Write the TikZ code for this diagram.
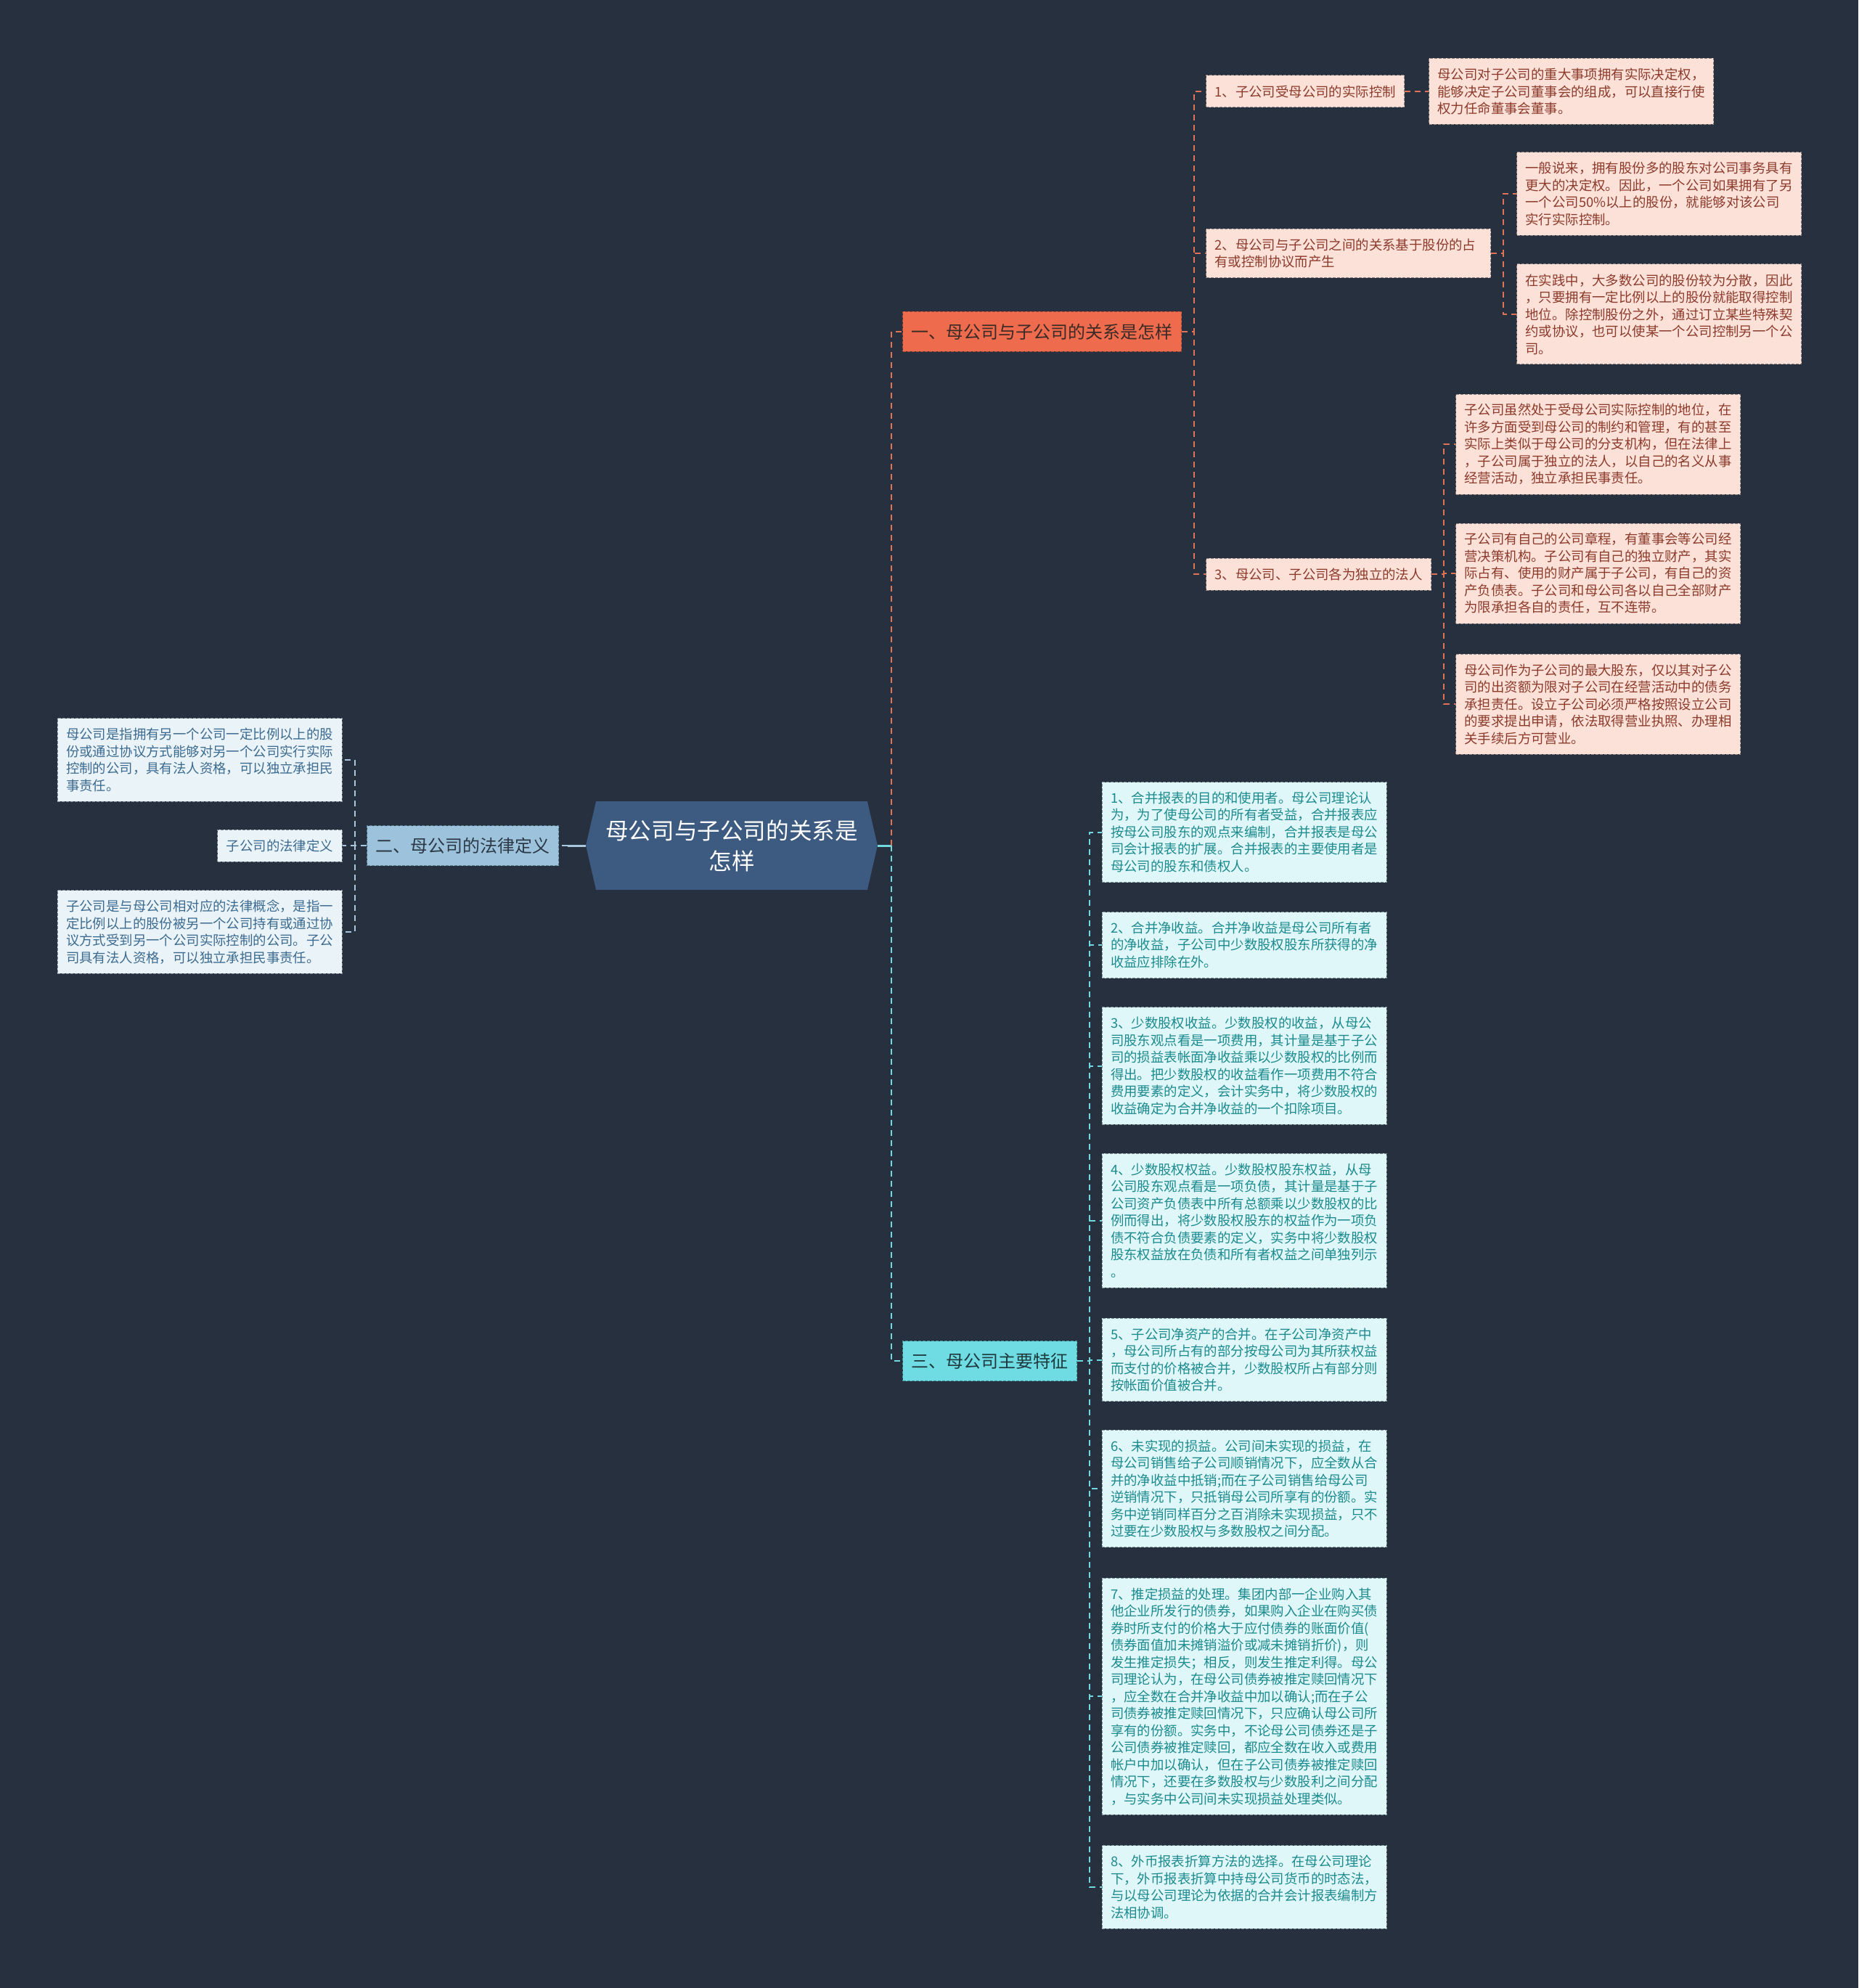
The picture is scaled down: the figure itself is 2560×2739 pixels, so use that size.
\documentclass[tikz,border=0pt]{standalone}
\usepackage{fontspec}
\newfontfamily\cjk{Noto Sans CJK SC}
\usetikzlibrary{calc,backgrounds}
\definecolor{bg}{HTML}{27303F}
\definecolor{rootfill}{HTML}{3D5A80}
\definecolor{bonefill}{HTML}{EE6C4D}
\definecolor{boneline}{HTML}{A94A36}
\definecolor{bonetext}{HTML}{3B2A26}
\definecolor{btwofill}{HTML}{9CC3DB}
\definecolor{btwoline}{HTML}{5E7F94}
\definecolor{btwotext}{HTML}{2C3845}
\definecolor{bthreefill}{HTML}{6EDCE2}
\definecolor{bthreeline}{HTML}{3E8E93}
\definecolor{bthreetext}{HTML}{1E3A3E}
\definecolor{peach}{HTML}{FCE1D9}
\definecolor{peachtext}{HTML}{8C3B2B}
\definecolor{peachline}{HTML}{8F8482}
\definecolor{lblue}{HTML}{EAF3F8}
\definecolor{lbluetext}{HTML}{3D6B90}
\definecolor{lblueline}{HTML}{7F8C96}
\definecolor{lcyan}{HTML}{DFF7F8}
\definecolor{lcyantext}{HTML}{1C8A8E}
\definecolor{lcyanline}{HTML}{7B9193}
\definecolor{orangelink}{HTML}{E07256}
\definecolor{bluelink}{HTML}{A7C7DB}
\definecolor{cyanlink}{HTML}{6FD9DF}
\tikzset{
  leaf/.style={font=\cjk\fontsize{9.2pt}{11.75pt}\selectfont, align=left,
    inner xsep=6pt, inner ysep=3pt, draw, dash pattern=on 2pt off 1pt, line width=0.5pt},
  wide/.style={text width=184pt},
  pbox/.style={leaf, fill=peach, draw=peachline, text=peachtext},
  bbox/.style={leaf, fill=lblue, draw=lblueline, text=lbluetext},
  cbox/.style={leaf, fill=lcyan, draw=lcyanline, text=lcyantext},
  branch/.style={font=\cjk\fontsize{12pt}{14pt}\selectfont, inner xsep=6pt, inner ysep=2pt,
    minimum height=27.5pt, draw, dash pattern=on 2pt off 1pt, line width=0.5pt},
  link/.style={dash pattern=on 4pt off 3pt, line width=1pt},
  solidlink/.style={line width=1.5pt},
  lnone/.style={minimum height=22pt},
  lntwo/.style={minimum height=33.75pt},
  lnthree/.style={minimum height=45.5pt},
  lnfour/.style={minimum height=57.25pt},
  lnfive/.style={minimum height=69pt},
  lnsix/.style={minimum height=80.75pt},
  lnseven/.style={minimum height=92.5pt},
  lnthirteen/.style={minimum height=163pt},
}
\begin{document}
\begin{tikzpicture}[x=0.5pt,y=-0.5pt]
\useasboundingbox (0,0) rectangle (2560,2739);

% root
\node[font=\cjk\fontsize{15.8pt}{21pt}\selectfont, text=white, align=center,
  minimum width=200.5pt, minimum height=60.5pt, inner sep=0pt] (root) at (1008,1165)
  {母公司与子公司的关系是\\怎样};

% branches
\node[branch, fill=bonefill, draw=boneline, text=bonetext, anchor=west] (b1) at (1243,457) {一、母公司与子公司的关系是怎样};
\node[branch, fill=btwofill, draw=btwoline, text=btwotext, anchor=east] (b2) at (770,1165) {二、母公司的法律定义};
\node[branch, fill=bthreefill, draw=bthreeline, text=bthreetext, anchor=west] (b3) at (1243,1875) {三、母公司主要特征};

% branch 1 children
\node[pbox, lnone, anchor=west] (c11) at (1661,126) {1、子公司受母公司的实际控制};
\node[pbox, wide, lntwo, anchor=west] (c12) at (1661,349) {2、母公司与子公司之间的关系基于股份的占\\有或控制协议而产生};
\node[pbox, lnone, anchor=west] (c13) at (1661,791) {3、母公司、子公司各为独立的法人};

\node[pbox, wide, lnthree, anchor=west] (d111) at (1968,126) {母公司对子公司的重大事项拥有实际决定权，\\能够决定子公司董事会的组成，可以直接行使\\权力任命董事会董事。};
\node[pbox, wide, lnfour, anchor=west] (d121) at (2089,267) {一般说来，拥有股份多的股东对公司事务具有\\更大的决定权。因此，一个公司如果拥有了另\\一个公司50\%以上的股份，就能够对该公司\\实行实际控制。};
\node[pbox, wide, lnfive, anchor=west] (d122) at (2089,433) {在实践中，大多数公司的股份较为分散，因此\\，只要拥有一定比例以上的股份就能取得控制\\地位。除控制股份之外，通过订立某些特殊契\\约或协议，也可以使某一个公司控制另一个公\\司。};
\node[pbox, wide, lnfive, anchor=west] (d131) at (2005,612) {子公司虽然处于受母公司实际控制的地位，在\\许多方面受到母公司的制约和管理，有的甚至\\实际上类似于母公司的分支机构，但在法律上\\，子公司属于独立的法人，以自己的名义从事\\经营活动，独立承担民事责任。};
\node[pbox, wide, lnfive, anchor=west] (d132) at (2005,790) {子公司有自己的公司章程，有董事会等公司经\\营决策机构。子公司有自己的独立财产，其实\\际占有、使用的财产属于子公司，有自己的资\\产负债表。子公司和母公司各以自己全部财产\\为限承担各自的责任，互不连带。};
\node[pbox, wide, lnfive, anchor=west] (d133) at (2005,970) {母公司作为子公司的最大股东，仅以其对子公\\司的出资额为限对子公司在经营活动中的债务\\承担责任。设立子公司必须严格按照设立公司\\的要求提出申请，依法取得营业执照、办理相\\关手续后方可营业。};

% branch 2 children
\node[bbox, wide, lnfour, anchor=east] (e1) at (471.5,1047) {母公司是指拥有另一个公司一定比例以上的股\\份或通过协议方式能够对另一个公司实行实际\\控制的公司，具有法人资格，可以独立承担民\\事责任。};
\node[bbox, lnone, anchor=east] (e2) at (471.5,1165) {子公司的法律定义};
\node[bbox, wide, lnfour, anchor=east] (e3) at (471.5,1284) {子公司是与母公司相对应的法律概念，是指一\\定比例以上的股份被另一个公司持有或通过协\\议方式受到另一个公司实际控制的公司。子公\\司具有法人资格，可以独立承担民事责任。};

% branch 3 children
\node[cbox, wide, lnfive, anchor=west] (f1) at (1517.5,1146.5) {1、合并报表的目的和使用者。母公司理论认\\为，为了使母公司的所有者受益，合并报表应\\按母公司股东的观点来编制，合并报表是母公\\司会计报表的扩展。合并报表的主要使用者是\\母公司的股东和债权人。};
\node[cbox, wide, lnthree, anchor=west] (f2) at (1517.5,1302) {2、合并净收益。合并净收益是母公司所有者\\的净收益，子公司中少数股权股东所获得的净\\收益应排除在外。};
\node[cbox, wide, lnsix, anchor=west] (f3) at (1517.5,1468.7) {3、少数股权收益。少数股权的收益，从母公\\司股东观点看是一项费用，其计量是基于子公\\司的损益表帐面净收益乘以少数股权的比例而\\得出。把少数股权的收益看作一项费用不符合\\费用要素的定义，会计实务中，将少数股权的\\收益确定为合并净收益的一个扣除项目。};
\node[cbox, wide, lnseven, anchor=west] (f4) at (1517.5,1681.6) {4、少数股权权益。少数股权股东权益，从母\\公司股东观点看是一项负债，其计量是基于子\\公司资产负债表中所有总额乘以少数股权的比\\例而得出，将少数股权股东的权益作为一项负\\债不符合负债要素的定义，实务中将少数股权\\股东权益放在负债和所有者权益之间单独列示\\。};
\node[cbox, wide, lnfour, anchor=west] (f5) at (1517.5,1873.7) {5、子公司净资产的合并。在子公司净资产中\\，母公司所占有的部分按母公司为其所获权益\\而支付的价格被合并，少数股权所占有部分则\\按帐面价值被合并。};
\node[cbox, wide, lnsix, anchor=west] (f6) at (1517.5,2051) {6、未实现的损益。公司间未实现的损益，在\\母公司销售给子公司顺销情况下，应全数从合\\并的净收益中抵销;而在子公司销售给母公司\\逆销情况下，只抵销母公司所享有的份额。实\\务中逆销同样百分之百消除未实现损益，只不\\过要在少数股权与多数股权之间分配。};
\node[cbox, wide, lnthirteen, anchor=west] (f7) at (1517.5,2337.4) {7、推定损益的处理。集团内部一企业购入其\\他企业所发行的债券，如果购入企业在购买债\\券时所支付的价格大于应付债券的账面价值(\\债券面值加未摊销溢价或减未摊销折价)，则\\发生推定损失；相反，则发生推定利得。母公\\司理论认为，在母公司债券被推定赎回情况下\\，应全数在合并净收益中加以确认;而在子公\\司债券被推定赎回情况下，只应确认母公司所\\享有的份额。实务中，不论母公司债券还是子\\公司债券被推定赎回，都应全数在收入或费用\\帐户中加以确认，但在子公司债券被推定赎回\\情况下，还要在多数股权与少数股利之间分配\\，与实务中公司间未实现损益处理类似。};
\node[cbox, wide, lnfour, anchor=west] (f8) at (1517.5,2600) {8、外币报表折算方法的选择。在母公司理论\\下，外币报表折算中持母公司货币的时态法，\\与以母公司理论为依据的合并会计报表编制方\\法相协调。};

% background and root shape
\begin{scope}[on background layer]
  \fill[bg] (0,0) rectangle (2560,2739);
  \fill[rootfill] (root.west) -- ($(root.north west)+(14,0)$) -- ($(root.north east)+(-14,0)$)
    -- (root.east) -- ($(root.south east)+(-14,0)$) -- ($(root.south west)+(14,0)$) -- cycle;
\end{scope}

% connectors root -> branches
\coordinate (rt) at (1227.6,1165);
\coordinate (lt) at (782,1165);
\draw[solidlink, cyanlink] (root.east) -- (rt);
\draw[link, orangelink] (rt) |- (b1.west);
\draw[link, cyanlink] (rt) |- (b3.west);
\draw[solidlink, bluelink] (root.west) -- (lt);
\draw[link, bluelink] (lt) -- (b2.east);

% branch 1
\foreach \c in {c11,c12,c13} \draw[link, orangelink] (b1.east) -- ++(17,0) |- (\c.west);
\draw[link, orangelink] (c11.east) -- (d111.west);
\foreach \c in {d121,d122} \draw[link, orangelink] (c12.east) -- ++(17,0) |- (\c.west);
\foreach \c in {d131,d132,d133} \draw[link, orangelink] (c13.east) -- ++(17,0) |- (\c.west);

% branch 2
\foreach \c in {e1,e2,e3} \draw[link, bluelink] (b2.west) -- ++(-16,0) |- (\c.east);

% branch 3
\foreach \c in {f1,f2,f3,f4,f5,f6,f7,f8} \draw[link, cyanlink] (b3.east) -- ++(17,0) |- (\c.west);
\end{tikzpicture}
\end{document}
